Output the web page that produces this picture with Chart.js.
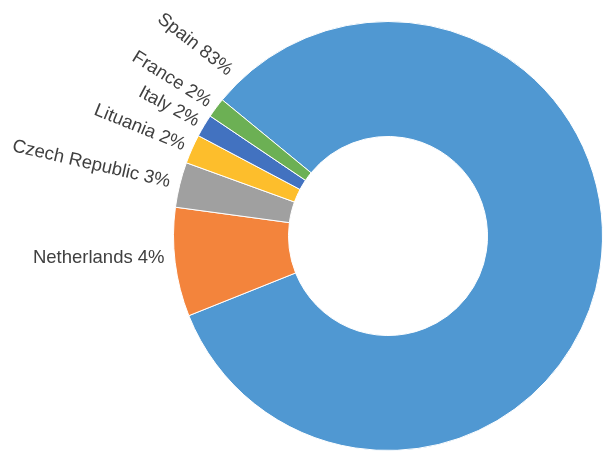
<!DOCTYPE html>
<html><head><meta charset="utf-8">
<script src="https://cdn.jsdelivr.net/npm/chart.js@4"></script>
<style>html,body{margin:0;padding:0;background:#fff;overflow:hidden}</style>
</head><body>
<canvas id="c" width="603" height="451"></canvas>
<script>
const categories = ['Spain', 'Netherlands', 'Czech Republic', 'Lituania', 'Italy', 'France'];
const shares = [83.0, 8.2, 3.4, 2.2, 1.7, 1.5];
const labelTexts = ['Spain 83%', 'Netherlands 4%', 'Czech Republic 3%', 'Lituania 2%', 'Italy 2%', 'France 2%'];
const sliceColors = ['#5098d2', '#f3843c', '#a0a0a0', '#fdbe2c', '#4272c0', '#6cb054'];

const outsideLabels = {
  id: 'outsideLabels',
  afterDatasetsDraw(chart, args, opts) {
    const ctx = chart.ctx;
    const meta = chart.getDatasetMeta(0);
    ctx.save();
    ctx.font = opts.font;
    ctx.fillStyle = opts.color;
    ctx.textAlign = 'right';
    ctx.textBaseline = 'middle';
    meta.data.forEach((arc, i) => {
      const p = arc.getProps(['x', 'y', 'startAngle', 'endAngle', 'outerRadius'], true);
      const deg = Math.PI / 180;
      let a = (p.startAngle + p.endAngle) / 2 + (opts.midShift[i] || 0) * deg;
      if (opts.fromStart[i] != null) a = p.startAngle + opts.fromStart[i] * deg;
      const r = p.outerRadius + opts.gap[i];
      const x = p.x + r * Math.cos(a), y = p.y + r * Math.sin(a);
      ctx.save();
      ctx.translate(x, y);
      ctx.rotate(opts.rotation[i] * deg);
      ctx.fillText(labelTexts[i], 0, 0);
      ctx.restore();
    });
    ctx.restore();
  }
};

new Chart(document.getElementById('c'), {
  type: 'doughnut',
  data: {
    labels: categories,
    datasets: [{
      data: shares,
      backgroundColor: sliceColors,
      borderColor: '#ffffff',
      borderWidth: 1,
      hoverOffset: 0
    }]
  },
  options: {
    responsive: false,
    animation: false,
    rotation: -50.6,
    cutout: '46.4%',
    layout: { padding: { left: 173, top: 21, right: 0, bottom: 0 } },
    plugins: {
      legend: { display: false },
      tooltip: { enabled: false },
      outsideLabels: {
        font: '18.5px "Liberation Sans", Arial, sans-serif',
        color: '#404040',
        gap: [13, 10, 10, 8, 7, 8],
        rotation: [38, 0, 13, 22, 28, 32],
        fromStart: [6.7, null, null, null, null, null],
        midShift: [0, 1.5, 0, 0, 0, 0]
      }
    }
  },
  plugins: [outsideLabels]
});
</script>
</body></html>
